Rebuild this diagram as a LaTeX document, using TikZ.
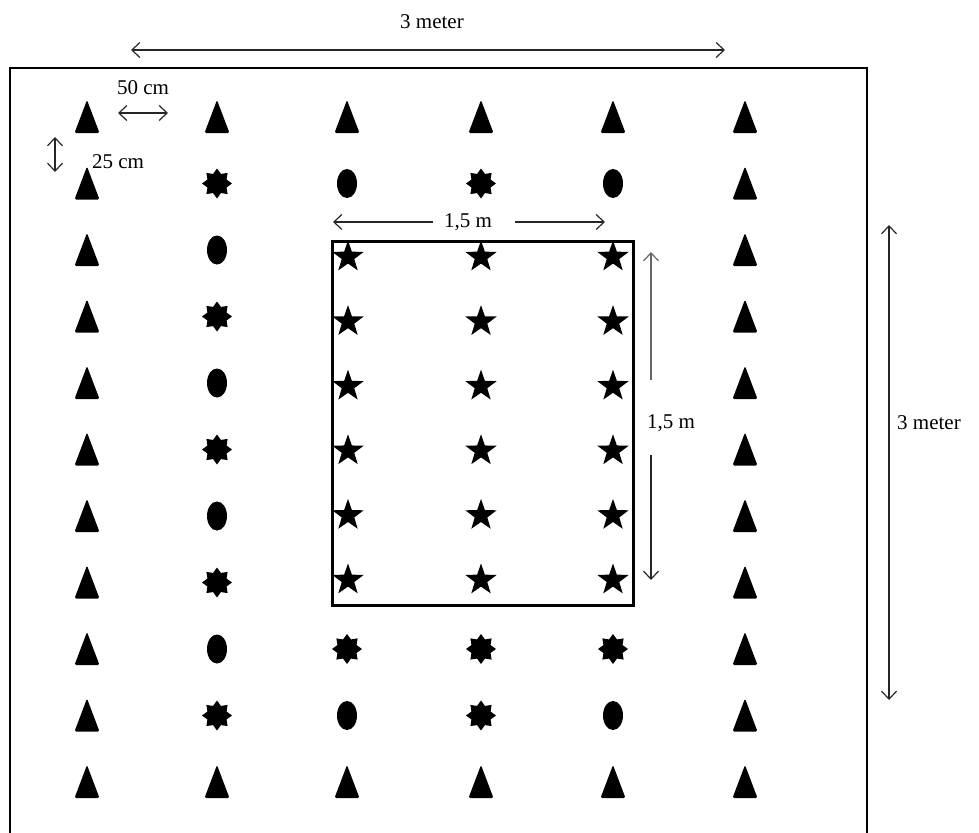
\documentclass[tikz,border=0pt]{standalone}
\usepackage{fontspec}
\setmainfont{Liberation Serif}
\usetikzlibrary{shapes.geometric,arrows.meta}
\begin{document}
\begin{tikzpicture}[x=1pt,y=-1pt,
  barb/.tip={Straight Barb[length=8pt,width=15pt,line width=1.2pt]},
  dimline/.style={draw=black!85, line width=1.3pt},
  lbl/.style={font=\fontsize{21}{24}\selectfont, inner sep=1pt},
  oval/.style={ellipse, fill=black, minimum width=20pt, minimum height=29pt, inner sep=0pt},
  sun/.style={star, star points=8, star point ratio=1.45, fill=black, minimum size=30pt, inner sep=0pt},
  pstar/.style={star, star points=5, star point ratio=2.5, fill=black, minimum size=33pt, inner sep=0pt},
  tri/.pic={\fill[rounded corners=1.5pt] (-12.5,16) -- (12.5,16) -- (0,-17) -- cycle;}
]
\useasboundingbox (0,0) rectangle (979,832);

% outer field (bottom edge outside the picture)
\coordinate (fBL) at (10,840);
\coordinate (fTL) at (10,68);
\coordinate (fTR) at (867,68);
\coordinate (fBR) at (867,840);
\draw[line width=2pt] (fBL) -- (fTL) -- (fTR) -- (fBR);

% inner plot
\node[draw, line width=3pt, minimum width=301pt, minimum height=364pt, inner sep=0pt, anchor=north west] (plot) at (331,240) {};

% triangles: outer columns and first/last rows
\foreach \r in {1,...,11}{
  \pic at (87,{117+66.5*(\r-1)}) {tri};
  \pic at (745,{117+66.5*(\r-1)}) {tri};
}
\foreach \x in {217,347,481,613}{
  \pic at (\x,117) {tri};
  \pic at (\x,782) {tri};
}
% second column
\foreach \r in {2,4,6,8,10}{
  \node[sun] (sunB\r) at (217,{117+66.5*(\r-1)}) {};
}
\foreach \r in {3,5,7,9}{
  \node[oval] (ovalB\r) at (217,{117+66.5*(\r-1)}) {};
}
% row 2 and row 10 middle
\node[oval] (o23) at (347,183.5) {};
\node[sun]  (s24) at (481,183.5) {};
\node[oval] (o25) at (613,183.5) {};
\node[oval] (o103) at (347,715.5) {};
\node[sun]  (s104) at (481,715.5) {};
\node[oval] (o105) at (613,715.5) {};
% row 9 middle
\node[sun] (s93) at (347,649) {};
\node[sun] (s94) at (481,649) {};
\node[sun] (s95) at (613,649) {};
% stars in plot
\foreach \k in {0,...,5}{
  \foreach \x/\c in {348/a,481/b,613/c}{
    \node[pstar] (st\c\k) at (\x,{257+64.6*\k}) {};
  }
}

% top 3 meter
\node[lbl] (t3m) at (432,22) {3 meter};
\coordinate (tA) at (131,50);
\coordinate (tB) at (725,50);
\draw[dimline, barb-barb] (tA) -- (tB);

% right 3 meter
\node[lbl, anchor=west] (r3m) at (896,423) {3 meter};
\coordinate (rA) at (889,225);
\coordinate (rB) at (889,700);
\draw[dimline, barb-barb] (rA) -- (rB);

% 50 cm
\node[lbl] (l50) at (143,88) {50 cm};
\coordinate (cA) at (118,113);
\coordinate (cB) at (168,113);
\draw[dimline, barb-barb] (cA) -- (cB);

% 25 cm
\node[lbl] (l25) at (118,162) {25 cm};
\coordinate (dA) at (55,137);
\coordinate (dB) at (55,172);
\draw[dimline, barb-barb] (dA) -- (dB);

% horizontal 1,5 m
\node[lbl] (h15) at (468,222) {1,5 m};
\coordinate (hA) at (333,222);
\coordinate (hL) at (433,222);
\coordinate (hR) at (515,222);
\coordinate (hB) at (605,222);
\draw[dimline, barb-] (hA) -- (hL);
\draw[dimline, -barb] (hR) -- (hB);

% vertical 1,5 m
\node[lbl] (v15) at (671,423) {1,5 m};
\coordinate (vA) at (651,252);
\coordinate (vT) at (651,380);
\coordinate (vU) at (651,455);
\coordinate (vB) at (651,580);
\draw[dimline, draw=black!60, barb-] (vA) -- (vT);
\draw[dimline, -barb] (vU) -- (vB);
\end{tikzpicture}
\end{document}
